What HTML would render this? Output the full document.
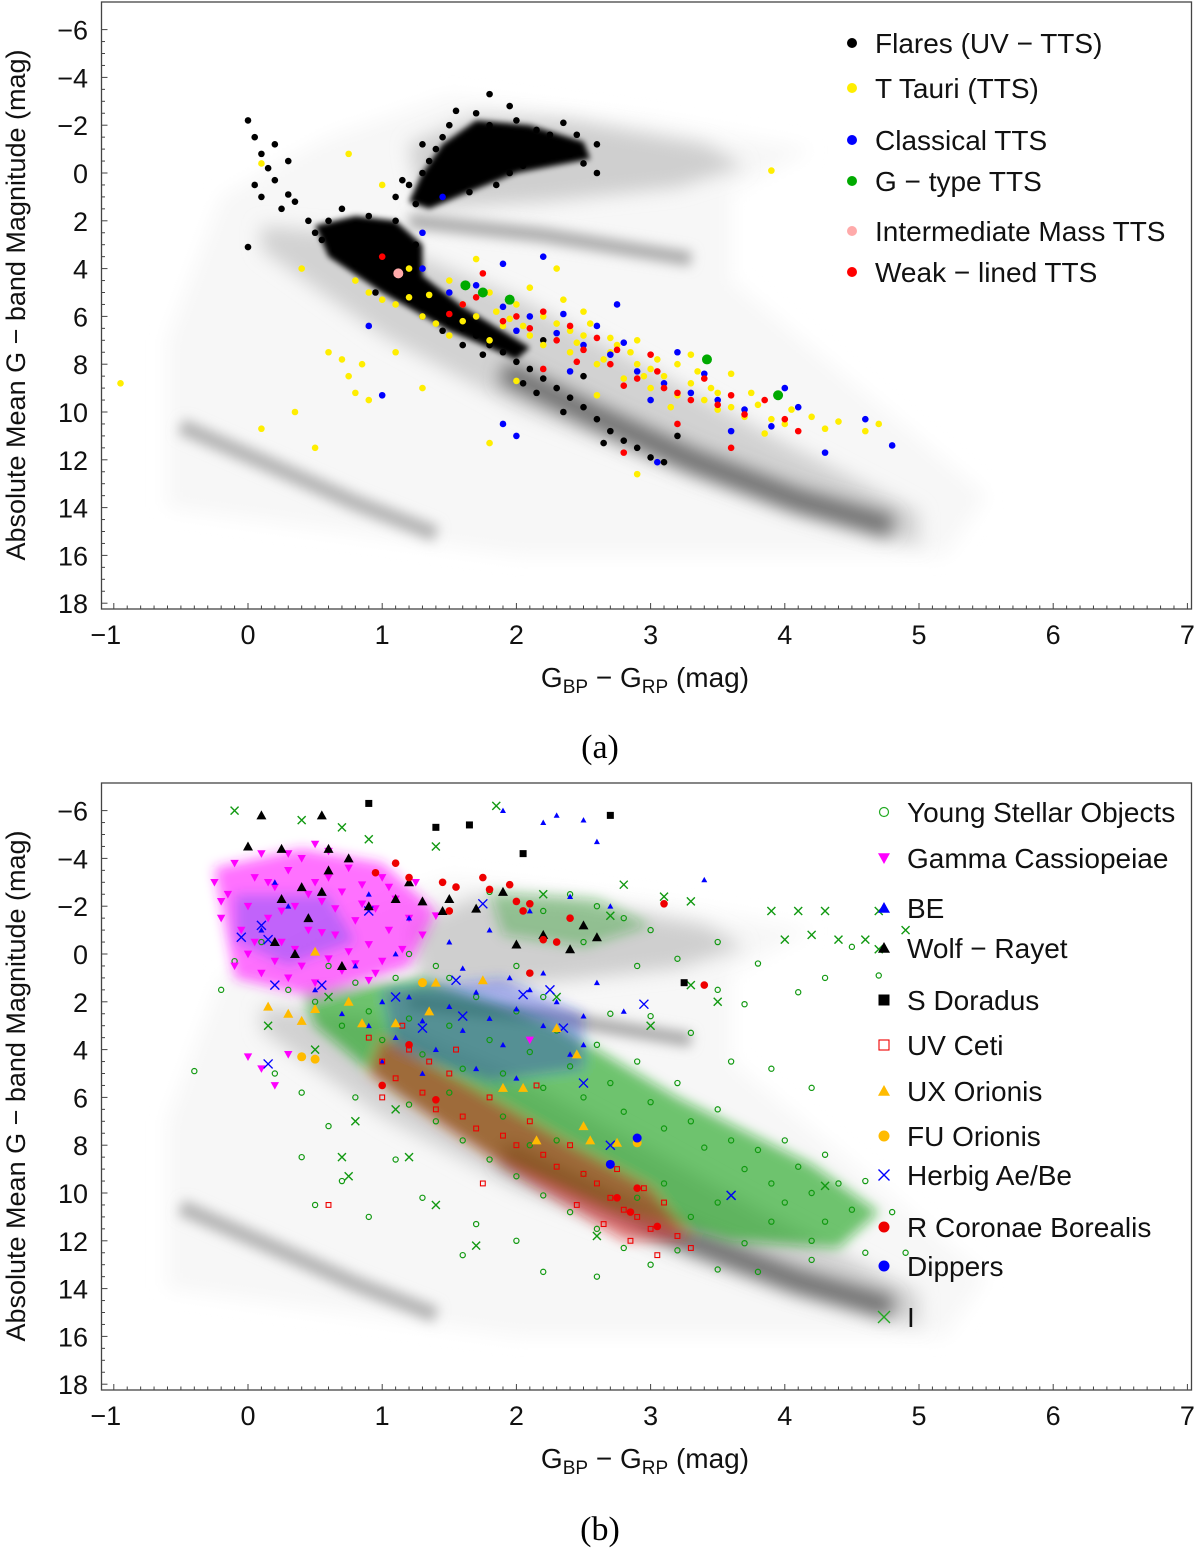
<!DOCTYPE html>
<html><head><meta charset="utf-8"><style>
html,body{margin:0;padding:0;background:#fff;}
svg{display:block;font-family:"Liberation Sans","DejaVu Sans",sans-serif;}
</style></head><body>
<svg id="fig" width="1200" height="1562" viewBox="0 0 1200 1562" xmlns="http://www.w3.org/2000/svg">
<defs>
<filter id="blur8" x="-50%" y="-50%" width="200%" height="200%"><feGaussianBlur stdDeviation="9"/></filter>
<filter id="blur6" x="-50%" y="-50%" width="200%" height="200%"><feGaussianBlur stdDeviation="6"/></filter>
<filter id="blur4" x="-50%" y="-50%" width="200%" height="200%"><feGaussianBlur stdDeviation="4"/></filter>
<filter id="blur3" x="-50%" y="-50%" width="200%" height="200%"><feGaussianBlur stdDeviation="3"/></filter>
</defs>
<g id="panelA"></g>
<g id="panelB"></g>
<text x="600" y="758" text-anchor="middle" font-family="Liberation Serif,serif" font-size="34">(a)</text>
<text x="600" y="1540" text-anchor="middle" font-family="Liberation Serif,serif" font-size="34">(b)</text>
</svg>
<script>
// ---------- data: panel (a) ----------
const xTicks=[-1,0,1,2,3,4,5,6,7];
const yTicks=[-6,-4,-2,0,2,4,6,8,10,12,14,16,18];
const flares=[[1.1,1],[1.2,0.5],[1.3,0],[1.35,-0.5],[1.4,-1],[1.45,-1.5],[1.5,-2],[1.55,-1],[1.6,-0.5],[1.6,0.5],[1.65,-1.5],[1.7,-2.5],[1.7,0],[1.75,-1],[1.8,-2],[1.8,-0.5],[1.85,0.5],[1.9,-1.5],[1.9,-0.8],[1.95,0],[2,-1.2],[2.05,-0.3],[2.1,-1],[2.15,-1.8],[2.2,-0.6],[2.3,-1],[2.4,-0.8],[2.5,-0.4],[2.6,0],[1.25,1.3],[1.15,0.3],[1.3,-1.2],[1.5,0.2],[1.4,0.8],[1.55,-2.6],[1.8,-3.3],[2.0,-2.2],[1.65,0.8],[1.45,0.0],[2.25,-1.6],[2.35,-2.1],[2.45,-1.6],[1.95,-2.8],[2.6,-1.2],
[0,-2.2],[0.05,-1.5],[0.1,-0.8],[0.15,-0.2],[0.05,0.5],[0.2,0.3],[0.3,-0.5],[0.1,1],[0,3.1],[0.25,1.5],[0.35,1.2],[0.45,2],[0.5,2.5],[0.2,-1.2],[0.3,0.9],
[0.6,2],[0.7,2.5],[0.75,3],[0.8,2.2],[0.85,3.3],[0.9,2.7],[0.95,3.8],[1.0,2.5],[1.05,3.2],[1.1,2.0],[1.15,3.5],[0.65,3.2],[0.8,3.8],[1.0,4.2],[1.2,4.6],[1.25,3],[0.55,2.8],[0.7,1.5],[0.9,1.8],[1.1,4.9],[0.95,5.0],
[1.2,5.3],[1.3,5.5],[1.4,5.8],[1.5,6.2],[1.6,6.5],[1.7,6.8],[1.8,7.2],[1.9,7.5],[2.0,7.9],[2.1,8.2],[2.2,8.6],[2.3,9.0],[2.4,9.4],[2.5,9.8],[2.6,10.3],[2.7,10.8],[2.8,11.2],[2.9,11.5],[3.0,11.9],[3.1,12.1],[1.45,6.6],[1.75,7.6],[2.05,8.8],[2.35,10],[2.65,11.3],[1.3,6.0],[1.6,7.2],[2.15,9.2],[3.2,11.0],[2.2,7.0],[2.5,8.5]];
const ttauri=[[0.8,4.5],[0.9,5],[1.0,5.3],[1.1,5.5],[1.2,5.2],[1.3,6],[1.4,6.3],[1.5,6.8],[1.6,5.5],[1.7,6],[1.8,7],[1.9,6.4],[2.0,5.5],[2.1,6.8],[2.2,7.2],[2.3,6.3],[2.4,7.5],[2.5,6.8],[2.6,8],[2.7,7.5],[2.8,8.6],[2.9,8],[3.0,9],[3.1,8.5],[3.2,9.3],[3.3,8.8],[3.4,9.5],[3.5,9.2],[3.6,9.8],[3.7,10.2],[3.8,9.7],[3.9,10.3],[4.0,10.5],[4.2,10.2],[4.4,10.4],[4.6,10.8],[4.7,10.5],[1.5,4.5],[1.8,5],[2.1,4.8],[2.5,5.8],[2.9,7],[3.3,7.6],[3.6,8.4],[0.75,8.5],[0.8,9.2],[0.85,8],[0.9,9.5],[0.7,7.8],[0.5,11.5],[0.35,10],[0.1,10.7],[-0.95,8.8],[3.9,-0.1],[0.1,-0.4],[0.75,-0.8],[1.0,0.5],[1.1,7.5],[1.3,9],[1.8,11.3],[2.9,12.6],[2.3,4],[1.7,3.6],[2.0,8.7],[2.6,9.3],[0.6,7.5],[0.4,4],[1.2,4],[2.2,6],[2.4,6.6],[2.7,6.9],[3.0,8.2],[3.2,8.0],[3.5,9.9],[1.95,6.1],[1.35,5.1],[2.85,7.5],[2.35,5.3],[2.55,6.3],[2.75,7.2],[3.05,7.8],[3.35,8.3],[3.75,9.2],[4.05,9.9],[4.3,10.7],[1.6,6.2],[2.05,6.4],[2.45,7.1],[2.95,8.5],[3.45,9.0],[3.85,10.9],[1.85,5.8],[2.65,7.8],[3.15,9.8]];
const classical=[[1.3,4],[1.5,5],[1.7,4.7],[1.9,5.6],[2.1,6],[2.3,6.7],[2.5,7.2],[2.7,7.6],[2.9,8.3],[3.1,8.8],[3.3,9.2],[3.5,9.5],[3.7,9.9],[3.9,10.6],[4.1,9.8],[4.3,11.7],[4.6,10.3],[4.8,11.4],[4.0,9],[2.2,3.5],[1.9,3.8],[2.6,6.4],[3.2,7.5],[2.4,8.3],[1.9,10.5],[1.0,9.3],[0.9,6.4],[2.0,11],[3.05,12.1],[3.6,10.8],[1.45,1],[2.75,5.5],[1.3,2.5],[2.0,6.6],[2.8,7.1],[3.4,8.4],[2.35,5.9],[3.0,9.5]];
const gtype=[[1.62,4.7],[1.95,5.3],[1.75,5],[3.42,7.8],[3.95,9.3]];
const intermediate=[[1.12,4.2]];
const weak=[[1.5,5.9],[1.7,5.2],[1.9,6.2],[2.1,6.5],[2.3,7],[2.5,7.4],[2.7,8],[2.9,8.6],[3.1,9],[3.3,9.5],[3.5,9.7],[3.7,10.1],[3.85,9.5],[4.0,10.3],[3.4,8.6],[3.0,7.6],[2.6,6.9],[2.2,5.8],[1.75,4.2],[2.8,11.7],[3.2,10.5],[1.0,3.5],[2.2,8.2],[3.6,11.5],[4.1,10.8],[2.8,8.9],[3.2,9.2],[2.45,7.9],[2.0,6.0],[2.4,6.4],[2.75,7.4],[3.05,8.3],[3.6,9.3],[1.6,5.5]];
// ---------- data: panel (b) ----------
const yso=[[0.3,1.5],[0.5,2],[0.6,0.5],[0.7,3],[0.8,1.2],[0.9,2.4],[1.0,3.6],[1.1,1.0],[1.2,2.7],[1.3,4.2],[1.4,0.5],[1.5,3.0],[1.6,4.8],[1.7,1.8],[1.8,3.6],[1.9,5.0],[2.0,2.4],[2.1,4.1],[2.2,5.6],[2.3,3.2],[2.4,4.7],[2.5,6.0],[2.6,3.8],[2.7,5.4],[2.8,6.6],[2.9,4.5],[3.0,6.2],[3.1,7.3],[3.2,5.4],[3.3,7.0],[3.4,8.1],[3.5,6.5],[3.6,7.8],[3.7,9.0],[3.8,8.2],[3.9,9.6],[4.0,10.4],[4.1,8.9],[4.2,10.0],[4.3,11.2],[4.4,9.6],[4.5,10.7],[4.6,12.5],[1.0,5.5],[1.2,6.3],[1.4,7.0],[1.6,7.8],[1.8,8.6],[2.0,9.3],[2.2,10.1],[2.4,10.8],[2.6,11.5],[2.8,12.3],[3.0,13.0],[1.5,5.8],[1.9,6.8],[2.3,7.8],[2.7,8.8],[3.1,9.6],[3.5,10.4],[3.9,11.2],[4.2,12.0],[2.1,8.0],[2.5,9.2],[2.9,10.2],[3.3,11.0],[3.7,12.1],[3.5,13.2],[3.2,12.4],[0.7,9.5],[0.5,10.5],[0.9,11],[0.4,8.5],[0.6,7.2],[0.8,6],[1.1,8.6],[1.3,10.2],[1.7,11.3],[2.0,12],[2.2,13.3],[1.8,-2.6],[2.0,-2.2],[2.2,-1.8],[2.4,-2.5],[2.6,-2.0],[2.8,-1.5],[3.0,-1.0],[2.5,-0.5],[2.9,0.5],[3.2,0.2],[3.5,-0.5],[3.8,0.4],[4.5,-0.3],[4.7,0.9],[3.5,1.5],[3.7,2.1],[4.1,1.6],[4.3,1.0],[3.0,2.6],[3.3,3.3],[3.6,4.5],[3.9,4.8],[4.2,5.6],[4.0,7.8],[4.3,8.4],[4.6,9.5],[-0.4,4.9],[-0.1,0.3],[0.1,-0.5],[-0.2,1.5],[1.2,0],[1.5,1.0],[2.0,0.5],[2.2,1.8],[2.7,2.5],[0.4,5.8],[0.2,5.0],[4.2,12.8],[3.8,13.3],[4.8,10.8],[4.9,12.5],[2.6,13.5],[1.6,12.6]];
const gammaCas=[[-0.25,-3],[-0.2,-1.5],[-0.15,-2.5],[-0.1,-3.8],[-0.05,-1],[0,-2],[0.05,-3.2],[0.1,-4.2],[0.15,-1.5],[0.2,-2.8],[0.25,-0.5],[0.3,-3.5],[0.35,-2],[0.4,-4],[0.45,-1],[0.5,-3],[0.55,-2.2],[0.6,-4.3],[0.65,-0.8],[0.7,-2.6],[0.75,-3.6],[0.8,-1.4],[0.85,-2.9],[0.9,-0.4],[0.95,-1.9],[1.0,-3.2],[1.05,-1],[1.1,-2.3],[1.15,-0.2],[1.2,-1.5],[1.3,-0.8],[1.4,-1.6],[0.0,0],[0.1,0.8],[0.2,0.3],[0.3,1],[0.4,0.5],[0.5,1.2],[0.6,0.2],[0.7,0.7],[0.8,0.4],[0.9,1.1],[1.0,0.3],[-0.1,0.5],[0.05,-0.5],[0.25,-1.8],[0.45,-2.5],[0.65,-1.9],[0.85,-2.1],[1.05,-2.8],[0.35,-0.2],[0.55,-0.9],[0.75,-0.1],[0.15,-3],[0.5,-4.6],[0.3,-4.2],[1.25,-3],[0.95,0.8],[0.0,4.3],[0.1,4.8],[0.2,5.5],[0.3,4.2],[2.1,3.6],[-0.2,-2.2],[0.6,-3.2]];
const be=[[0.5,1.5],[0.7,2.5],[0.9,3],[1.0,2],[1.1,3.5],[1.2,1.8],[1.3,2.8],[1.4,4],[1.5,2.2],[1.6,3.2],[1.7,1.6],[1.8,2.7],[1.9,3.8],[2.0,2.3],[2.1,1.5],[2.2,3],[2.3,2],[2.4,4.2],[2.5,2.6],[2.6,1.2],[1.5,-0.5],[1.8,-1],[2.1,-1.8],[2.4,-2.4],[2.7,-2],[1.2,-1.5],[0.9,-2.5],[0.3,-2],[0.1,-1],[0.2,-3],[1.9,-6],[2.2,-5.5],[2.5,-5.6],[2.3,-5.8],[2.6,-4.7],[3.4,-3.1],[1.7,4.8],[2.0,5.2],[1.3,5],[1.0,4.5],[1.6,0.6],[2.2,0.8],[1.95,1],[1.4,1.2],[2.5,3.8],[2.8,2.4],[1.1,0],[0.8,0.5]];
const wolfRayet=[[0.1,-5.8],[0.25,-4.4],[0.6,-4.4],[0.75,-4],[0.6,-3.5],[0.4,-2.8],[0.55,-2.6],[0.9,-2],[1.1,-2.3],[1.3,-2.2],[1.5,-2.3],[1.45,-1.8],[1.7,-1.9],[1.9,-2.6],[0.45,-1.5],[0.35,0],[0.2,-0.5],[2.2,-0.8],[2.5,-1.2],[2.6,-0.7],[2.4,-0.2],[2.0,-0.4],[0.0,-4.5],[0.55,-5.8],[1.2,-3],[0.7,0.5],[0.25,-2.3]];
const sDoradus=[[0.9,-6.3],[1.4,-5.3],[1.65,-5.4],[2.7,-5.8],[2.05,-4.2],[3.25,1.2]];
const uvCeti=[[0.9,3.5],[1.0,4.5],[1.1,5.2],[1.2,4],[1.3,5.8],[1.4,6.5],[1.5,5],[1.6,6.8],[1.7,7.3],[1.8,6],[1.9,7.6],[2.0,8],[2.1,7],[2.2,8.4],[2.3,8.9],[2.4,8],[2.5,9.2],[2.6,9.6],[2.7,10.2],[2.8,10.7],[2.9,11],[3.0,11.5],[3.1,10.4],[3.2,11.8],[3.3,12.3],[2.75,9],[2.95,9.8],[2.45,10.5],[2.65,11.3],[1.35,4.5],[1.15,3],[1.55,4],[2.15,5.5],[1.75,9.6],[0.6,10.5],[3.05,12.6],[2.85,12],[1.0,6]];
const uxOri=[[0.15,2.2],[0.3,2.5],[0.4,2.8],[0.5,2.3],[0.75,2],[0.85,2.9],[1.1,2.9],[1.35,2.4],[1.4,1.2],[1.75,1.1],[2.05,5.6],[2.45,4.2],[2.5,7.2],[2.55,7.8],[2.75,7.9],[2.15,7.8],[0.5,-0.1],[2.3,3.1],[1.9,5.6]];
const fuOri=[[0.4,4.3],[0.5,4.4],[1.3,1.2],[2.9,7.9]];
const herbig=[[-0.05,-0.7],[0.1,-1.2],[0.15,-0.6],[0.2,1.3],[0.15,4.6],[0.9,-1.8],[0.55,1.3],[1.1,1.8],[1.3,3.1],[1.55,1.1],[2.05,1.7],[2.5,5.4],[2.95,2.1],[3.6,10.1],[2.35,3.1],[1.75,-2.1],[2.25,1.5],[1.6,2.6],[2.7,8]];
const rcb=[[0.95,-3.4],[1.1,-3.8],[1.2,-3.2],[1.45,-3],[1.55,-2.8],[1.8,-2.7],[1.75,-3.2],[1.95,-2.9],[2.05,-1.8],[2.2,-0.6],[2.4,-1.5],[2.3,-0.5],[2.1,-2.1],[1.5,-1.8],[2.0,-2.2],[3.1,-2.1],[3.4,1.3],[2.1,0.8],[2.75,10.2],[2.85,10.8],[3.05,11.4],[2.9,9.8],[1.2,3.8],[1.0,5.5],[1.4,6.1]];
const dippers=[[2.7,8.8],[2.9,7.7]];
const typeI=[[-0.1,-6],[0.4,-5.6],[0.9,-4.8],[1.4,-4.5],[1.85,-6.2],[0.7,-5.3],[2.8,-2.9],[3.1,-2.4],[3.3,-2.2],[3.9,-1.8],[4.1,-1.8],[4.3,-1.8],[4.7,-1.8],[4.9,-1],[4.2,-0.8],[4.4,-0.6],[4.6,-0.6],[4.7,-0.2],[4.0,-0.6],[2.7,-1.6],[2.2,-2.5],[0.7,8.5],[0.8,7],[0.75,9.3],[1.2,8.5],[1.4,10.5],[1.7,12.2],[2.6,11.8],[3.6,10.1],[4.3,9.7],[0.5,4],[0.15,3],[3.3,1.3],[3.0,3],[0.6,1.8],[3.5,2],[2.3,1.8],[1.1,6.5]];
const legendA=["Flares (UV \u2212 TTS)","T Tauri (TTS)","Classical TTS","G \u2212 type TTS","Intermediate Mass TTS","Weak \u2212 lined TTS"];
const legendB=["Young Stellar Objects","Gamma Cassiopeiae","BE","Wolf \u2212 Rayet","S Doradus","UV Ceti","UX Orionis","FU Orionis","Herbig Ae/Be","R Coronae Borealis","Dippers","I"];

const NS="http://www.w3.org/2000/svg";
const X0=248, XS=134.2, YS=23.9;
function sx(v){return X0+v*XS;}
function mk(tag,attrs,parent){const e=document.createElementNS(NS,tag);for(const k in attrs)e.setAttribute(k,attrs[k]);parent.appendChild(e);return e;}

function drawPanel(g,off){
  const sy=v=>off+173+v*YS;
  const pts=a=>a.map(p=>sx(p[0]).toFixed(1)+","+sy(p[1]).toFixed(1)).join(" ");
  const bg=mk("g",{},g);
  
  
  mk("polygon",{points:pts([[-0.6,7],[-0.2,1],[0.6,-1.5],[1.5,-3.2],[3,-2.2],[4.2,-1],[3.6,0.8],[3.6,4.5],[5.5,13.5],[5.2,16],[2,16],[-0.6,14]]),fill:"#f7f7f7",filter:"url(#blur8)"},bg);
  mk("polygon",{points:pts([[0.1,2.2],[0.9,2.6],[2,5.2],[3,8.2],[4,11.3],[5,14.2],[5,15.6],[4,14],[3,12],[2,9.8],[1,6.8],[0.1,3.2]]),fill:"#d2d2d2",filter:"url(#blur8)"},bg);
  mk("polygon",{points:pts([[1.2,-1.2],[1.7,-2.4],[2.4,-2.2],[3.4,-1.2],[3.7,-0.3],[3.2,0.6],[2.2,1.2],[1.3,1.5]]),fill:"#cfcfcf",filter:"url(#blur8)"},bg);
  mk("polyline",{points:pts([[1.2,2.0],[2.2,2.6],[3.3,3.6]]),fill:"none",stroke:"#a8a8a8","stroke-width":14,filter:"url(#blur6)"},bg);
  mk("polyline",{points:pts([[1.9,8.3],[2.6,10.2],[3.3,12],[4.1,13.7],[4.8,14.8]]),fill:"none",stroke:"#6a6a6a","stroke-width":22,filter:"url(#blur8)"},bg);
  mk("polyline",{points:pts([[-0.5,10.6],[0.2,12.3],[0.8,13.8],[1.4,15.1]]),fill:"none",stroke:"#b4b4b4","stroke-width":16,filter:"url(#blur6)"},bg);
  return sy;
}

function axes(g,off,sy){
  const top=off+2,bot=off+609;
  const frame=mk("rect",{x:101.5,y:top,width:1090,height:bot-top,fill:"none",stroke:"#444","stroke-width":1.3},g);
  
  
  const ax=mk("g",{stroke:"#444","stroke-width":1},g);
  for(let v=-1;v<=7.001;v+=0.1){const x=sx(v);const major=Math.abs(v-Math.round(v))<1e-6;mk("line",{x1:x,x2:x,y1:bot,y2:bot-(major?6:3.5)},ax);}
  for(let v=-6;v<=18.001;v+=0.5){const y=sy(v);if(y<top)continue;const major=Math.abs(v/2-Math.round(v/2))<1e-6;mk("line",{x1:101.5,x2:101.5+(major?6:3.5),y1:y,y2:y},ax);}
  xTicks.forEach(v=>{const t=mk("text",{x:sx(v)-(v<0?8:0),y:bot+35,"text-anchor":"middle","font-size":27,fill:"#111"},g);t.textContent=v<0?"\u2212"+(-v):String(v);
    
    });
  yTicks.forEach(v=>{const t=mk("text",{x:88,y:sy(v)+10,"text-anchor":"end","font-size":27,fill:"#111"},g);t.textContent=v<0?"\u2212"+(-v):String(v);
    
    });
  const xl=mk("text",{x:645,y:bot+78,"text-anchor":"middle","font-size":28,fill:"#111"},g);
  xl.innerHTML='G<tspan font-size="19" dy="6">BP</tspan><tspan dy="-6">  \u2212  G</tspan><tspan font-size="19" dy="6">RP</tspan><tspan dy="-6"> (mag)</tspan>';
  
  
  const yl=mk("text",{x:0,y:0,"text-anchor":"middle","font-size":27,fill:"#111",transform:`translate(25,${off+305}) rotate(-90)`},g);
  yl.textContent="Absolute Mean G \u2212 band Magnitude (mag)";
  
  
}

function dots(g,arr,sy,r,fill,name){
  const s=mk("g",{},g);
  
  
  arr.forEach(p=>{const c=mk("circle",{cx:sx(p[0]),cy:sy(p[1]),r:r,fill:fill},s);
    
    });
}
function marker(parent,type,x,y,color,size){
  const s=size;let e;
  if(type==="circ")e=mk("circle",{cx:x,cy:y,r:s,fill:color},parent);
  else if(type==="ocirc")e=mk("circle",{cx:x,cy:y,r:s,fill:"none",stroke:color,"stroke-width":1.2},parent);
  else if(type==="tdown")e=mk("polygon",{points:`${x-s},${y-s*0.8} ${x+s},${y-s*0.8} ${x},${y+s}`,fill:color},parent);
  else if(type==="tup")e=mk("polygon",{points:`${x-s},${y+s*0.8} ${x+s},${y+s*0.8} ${x},${y-s}`,fill:color},parent);
  else if(type==="sq")e=mk("rect",{x:x-s,y:y-s,width:2*s,height:2*s,fill:color},parent);
  else if(type==="osq")e=mk("rect",{x:x-s,y:y-s,width:2*s,height:2*s,fill:"none",stroke:color,"stroke-width":1.1},parent);
  else if(type==="x"){e=mk("path",{d:`M${x-s},${y-s}L${x+s},${y+s}M${x-s},${y+s}L${x+s},${y-s}`,stroke:color,"stroke-width":1.4,fill:"none"},parent);}
  return e;
}
function series(g,arr,sy,type,color,size,name){
  const s=mk("g",{},g);
  
  
  arr.forEach(p=>{const e=marker(s,type,sx(p[0]),sy(p[1]),color,size);
    
    });
}

// ---------- panel A ----------
const gA=document.getElementById("panelA");
const syA=drawPanel(gA,0);
const dens=mk("g",{fill:"#000",filter:"url(#blur3)"},gA);


const pA=a=>a.map(p=>sx(p[0]).toFixed(1)+","+syA(p[1]).toFixed(1)).join(" ");
mk("polygon",{points:pA([[1.2,1.2],[1.3,0.0],[1.45,-1.2],[1.7,-2.2],[2.1,-2.0],[2.5,-1.3],[2.55,-0.6],[2.0,0.0],[1.6,0.9],[1.35,1.5]])},dens);
mk("polygon",{points:pA([[0.5,2.2],[0.8,1.8],[1.1,2.0],[1.3,3.0],[1.3,4.3],[1.6,5.6],[2.1,7.3],[2.0,7.8],[1.5,6.6],[1.0,5.0],[0.6,3.5]])},dens);
dots(gA,flares,syA,3.3,"#000","flares-series");
dots(gA,ttauri,syA,3.3,"#ffee00","t-tauri-series");
dots(gA,classical,syA,3.3,"#0000ff","classical-tts-series");
dots(gA,weak,syA,3.3,"#ff0000","weak-lined-tts-series");
dots(gA,gtype,syA,5,"#00aa00","g-type-tts-series");
dots(gA,intermediate,syA,5,"#ffaaaa","intermediate-mass-tts-series");
axes(gA,0,syA);
const legA=mk("g",{},gA);


const legAy=[43,88,140,181,231,272];
const legAc=["#000","#ffee00","#0000ff","#00aa00","#ffaaaa","#ff0000"];
legendA.forEach((t,i)=>{const e=mk("g",{},legA);
  
  
  mk("circle",{cx:852,cy:legAy[i],r:5,fill:legAc[i]},e);
  const tx=mk("text",{x:875,y:legAy[i]+10,"font-size":28,fill:"#111"},e);tx.textContent=t;});

// ---------- panel B ----------
const gB=document.getElementById("panelB");
const OFF=781;
const syB=drawPanel(gB,OFF);
const pB=a=>a.map(p=>sx(p[0]).toFixed(1)+","+syB(p[1]).toFixed(1)).join(" ");
const densB=mk("g",{filter:"url(#blur6)"},gB);


mk("polygon",{points:pB([[0.4,1.6],[1.3,1.0],[2.3,3.0],[3.2,6.0],[4.2,8.8],[4.7,10.8],[4.4,12.3],[3.6,12.0],[2.7,10.6],[1.8,8.4],[1.1,5.8],[0.5,3.0]]),fill:"#11a011",opacity:0.6},densB);
mk("polygon",{points:pB([[1.8,-2.6],[2.6,-2.3],[3.0,-1.2],[2.5,-0.3],[1.9,-0.8]]),fill:"#11a011",opacity:0.35},densB);
mk("polygon",{points:pB([[-0.25,-3.6],[0.4,-4.4],[1.0,-3.8],[1.4,-1.8],[1.2,0.5],[0.5,1.8],[-0.1,1.0]]),fill:"#ff22ff",opacity:0.65},densB);
mk("polygon",{points:pB([[-0.1,-2.5],[0.6,-2.5],[0.8,-0.5],[0.3,0.5],[-0.1,-0.5]]),fill:"#3344ee",opacity:0.3},densB);
mk("polygon",{points:pB([[1.0,1.5],[1.9,1.0],[2.5,2.5],[2.5,4.8],[1.8,5.3],[1.1,4.0]]),fill:"#2233dd",opacity:0.35},densB);
mk("polygon",{points:pB([[1.0,3.5],[1.6,5.4],[2.4,8.0],[3.0,9.8],[3.3,12.0],[2.8,12.0],[2.1,9.6],[1.4,7.0],[0.9,5]]),fill:"#ee1111",opacity:0.45},densB);
series(gB,yso,syB,"ocirc","#119911",2.6,"yso-series");
series(gB,typeI,syB,"x","#119911",4,"type-i-series");
series(gB,gammaCas,syB,"tdown","#ff00ff",4.2,"gamma-cas-series");
series(gB,be,syB,"tup","#0000ff",3,"be-series");
series(gB,uvCeti,syB,"osq","#ee0000",2.4,"uv-ceti-series");
series(gB,herbig,syB,"x","#0000ff",4.5,"herbig-series");
series(gB,wolfRayet,syB,"tup","#000",5,"wolf-rayet-series");
series(gB,sDoradus,syB,"sq","#000",3.5,"s-doradus-series");
series(gB,uxOri,syB,"tup","#ffbb00",5,"ux-orionis-series");
series(gB,fuOri,syB,"circ","#ffbb00",4.5,"fu-orionis-series");
series(gB,rcb,syB,"circ","#ee0000",3.8,"rcb-series");
series(gB,dippers,syB,"circ","#0000ff",4.5,"dippers-series");
axes(gB,OFF,syB);
const legB=mk("g",{},gB);


const legBy=[812,858,908,948,1000,1045,1091,1136,1175,1227,1266,1317];
const legBt=[["ocirc","#22aa22",4.5],["tdown","#ff00ff",6],["tup","#0000ff",6],["tup","#000",6],["sq","#000",5.5],["osq","#ee0000",5],["tup","#ffbb00",6],["circ","#ffbb00",5.5],["x","#0000ff",5.5],["circ","#ee0000",5.5],["circ","#0000ff",5.5],["x","#22aa22",6]];
legendB.forEach((t,i)=>{const e=mk("g",{},legB);
  
  
  const m=legBt[i];marker(e,m[0],884,legBy[i],m[1],m[2]);
  const tx=mk("text",{x:907,y:legBy[i]+10,"font-size":28,fill:"#111"},e);tx.textContent=t;});
</script>
</body></html>
